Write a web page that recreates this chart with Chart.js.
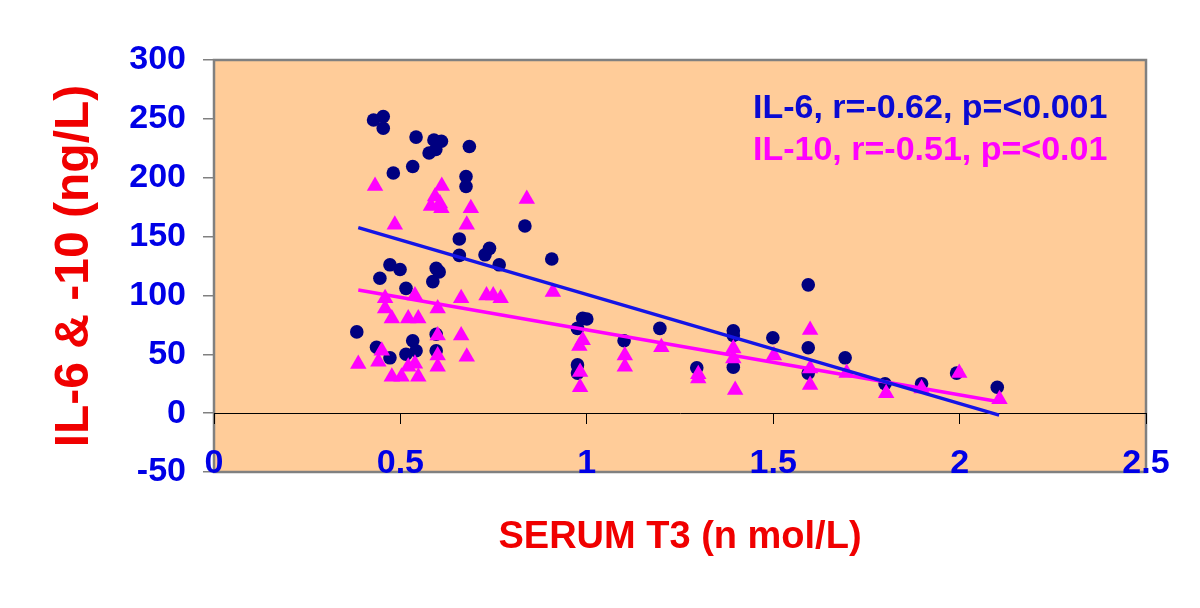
<!DOCTYPE html>
<html>
<head>
<meta charset="utf-8">
<script src="https://cdn.jsdelivr.net/npm/chart.js@4"></script>
<style>
  html, body { margin: 0; padding: 0; background: #ffffff; }
  #wrap { width: 1200px; height: 608px; }
</style>
</head>
<body>
<div id="wrap"><canvas id="t3-chart"></canvas></div>
<script>
// serum T3 against IL-6 (circles)
const t3Il6 = [0.428, 0.454, 0.454, 0.542, 0.59, 0.61, 0.595, 0.577, 0.685, 0.481, 0.533, 0.676, 0.676,
    0.834, 0.658, 0.658, 0.739, 0.727, 0.765, 0.906, 0.472, 0.499, 0.445, 0.596, 0.604, 0.587, 0.515,
    0.383, 0.436, 0.472, 0.533, 0.542, 0.515, 0.596, 0.596, 0.989, 1.0, 0.975, 0.975, 0.975, 1.10,
    1.196, 1.295, 1.393, 1.393, 1.393, 1.499, 1.594, 1.594, 1.594, 1.693, 1.80, 1.898, 1.992, 2.101];
const il6 = [249, 252, 242, 234.5, 232, 231, 224, 221, 226.5, 204, 209.5, 201, 192.5,
    159, 148, 134, 140, 134.5, 126, 131, 126, 122, 114.6, 123, 120, 111.7, 106,
    69, 56, 47, 61.5, 53, 50, 67, 53, 80.5, 80, 72, 41, 34, 61.5,
    72, 38.5, 70, 66, 39, 64, 109, 55.6, 34, 47, 25, 25, 34, 22];

// serum T3 against IL-10 (triangles)
const t3Il10 = [0.432, 0.485, 0.611, 0.593, 0.582, 0.606, 0.61, 0.839, 0.689, 0.678, 0.459, 0.459,
    0.477, 0.539, 0.521, 0.548, 0.60, 0.663, 0.731, 0.749, 0.769, 0.909, 0.60, 0.663, 0.387, 0.45,
    0.441, 0.477, 0.503, 0.521, 0.539, 0.548, 0.60, 0.60, 0.678, 0.989, 0.98, 0.982, 0.982, 1.102,
    1.102, 1.20, 1.299, 1.299, 1.393, 1.393, 1.398, 1.502, 1.599, 1.599, 1.599, 1.697, 1.803, 1.898,
    1.999, 2.107];
const il10 = [193, 160, 193, 184, 176, 178, 174, 182, 174, 160, 97.6, 89,
    80.5, 100, 80.5, 80.5, 89, 97.6, 100, 100, 97.6, 103, 66, 66, 41.7, 53,
    43.6, 31, 31, 39.4, 42, 31, 49, 39.4, 48, 62, 57, 35, 22, 49,
    39.4, 56, 29.5, 33, 55, 46.5, 19.6, 49, 70.6, 38, 24, 34, 17, 21,
    34, 11.7];

// trend lines, end points
const trendX = [0.387, 2.106];
const il6Trend = [157.6, -1.7];
const il10Trend = [104.6, 9.6];

const legendLines = ['IL-6, r=-0.62, p=<0.001', 'IL-10, r=-0.51, p=<0.01'];

function toPoints(xs, ys) {
    return xs.map((x, i) => ({ x: x, y: ys[i] }));
}

const sansFamily = "'Liberation Sans', Arial, sans-serif";
const tickFont = { family: sansFamily, size: 34, weight: 'bold' };

// peach plot area with grey frame, plus the text legend
const plotFrame = {
    id: 'plotFrame',
    beforeDraw(chart) {
        const a = chart.chartArea;
        const ctx = chart.ctx;
        ctx.save();
        ctx.fillStyle = '#ffcc99';
        ctx.fillRect(a.left, a.top, a.right - a.left, a.bottom - a.top);
        ctx.strokeStyle = '#808080';
        ctx.lineWidth = 2.5;
        ctx.strokeRect(a.left, a.top, a.right - a.left, a.bottom - a.top);
        ctx.restore();
    },
    afterDraw(chart) {
        const a = chart.chartArea;
        const ctx = chart.ctx;
        ctx.save();
        ctx.font = 'bold 34px ' + sansFamily;
        ctx.textBaseline = 'alphabetic';
        ctx.textAlign = 'left';
        ctx.fillStyle = '#0a0ad2';
        ctx.fillText(legendLines[0], a.left + 539, a.top + 58);
        ctx.fillStyle = '#ff00ff';
        ctx.fillText(legendLines[1], a.left + 539, a.top + 100);
        ctx.restore();
    }
};

const data = {
    datasets: [
        {
            type: 'line',
            label: 'IL-6 trend',
            data: toPoints(trendX, il6Trend),
            borderColor: '#1414e6',
            borderWidth: 3.5,
            pointRadius: 0,
            fill: false,
            order: 0
        },
        {
            type: 'line',
            label: 'IL-10 trend',
            data: toPoints(trendX, il10Trend),
            borderColor: '#ff00ff',
            borderWidth: 3.5,
            pointRadius: 0,
            fill: false,
            order: 1
        },
        {
            label: 'IL-10',
            data: toPoints(t3Il10, il10),
            pointStyle: 'triangle',
            pointRadius: 9.5,
            backgroundColor: '#ff00ff',
            borderColor: '#ff00ff',
            borderWidth: 0,
            order: 2
        },
        {
            label: 'IL-6',
            data: toPoints(t3Il6, il6),
            pointStyle: 'circle',
            pointRadius: 6.8,
            backgroundColor: '#000080',
            borderColor: '#000080',
            borderWidth: 0,
            order: 3
        }
    ]
};

const config = {
    type: 'scatter',
    data: data,
    plugins: [plotFrame],
    options: {
        responsive: false,
        animation: false,
        layout: { padding: { top: 60, right: 54, left: 0, bottom: 0 } },
        scales: {
            x: {
                type: 'linear',
                position: 'bottom',
                min: 0,
                max: 2.5,
                grid: { display: false },
                border: { display: false },
                ticks: {
                    stepSize: 0.5,
                    autoSkip: false,
                    maxRotation: 0,
                    // labels sit on the bottom frame, so they are mirrored into the plot
                    mirror: true,
                    padding: 0,
                    color: '#0000e6',
                    font: { family: sansFamily, size: 34, weight: 'bold', lineHeight: 0.5 },
                    callback: (value) => String(value)
                },
                title: {
                    display: true,
                    text: 'SERUM T3 (n mol/L)',
                    color: '#f00000',
                    font: { family: sansFamily, size: 38, weight: 'bold' },
                    padding: { top: 0, bottom: 48 }
                },
                afterFit(scale) { scale.height = 136; }
            },
            // axis line at y = 0 with its tick marks
            xZero: {
                type: 'linear',
                axis: 'x',
                position: { y: 0 },
                min: 0,
                max: 2.5,
                grid: { drawOnChartArea: false, drawTicks: true, tickLength: 10, color: '#000000', lineWidth: 1 },
                border: { display: true, color: '#000000', width: 1 },
                ticks: { stepSize: 0.5, display: false },
                afterFit(scale) { scale.height = 0; }
            },
            y: {
                type: 'linear',
                min: -50,
                max: 300,
                grid: { drawOnChartArea: false, drawTicks: true, tickLength: 11, color: '#808080', lineWidth: 1.5 },
                border: { display: false },
                ticks: {
                    stepSize: 50,
                    padding: 17,
                    color: '#0000e6',
                    font: tickFont
                },
                title: {
                    display: true,
                    text: 'IL-6 & -10 (ng/L)',
                    color: '#f00000',
                    font: { family: sansFamily, size: 48, weight: 'bold' },
                    padding: { top: 46, bottom: 0 }
                },
                afterFit(scale) { scale.width = 214; }
            }
        },
        plugins: {
            legend: { display: false },
            tooltip: { enabled: false }
        }
    }
};

var context = document.getElementById('t3-chart');
context.width = 1200;
context.height = 608;
new Chart(context.getContext('2d'), config);
</script>
</body>
</html>
